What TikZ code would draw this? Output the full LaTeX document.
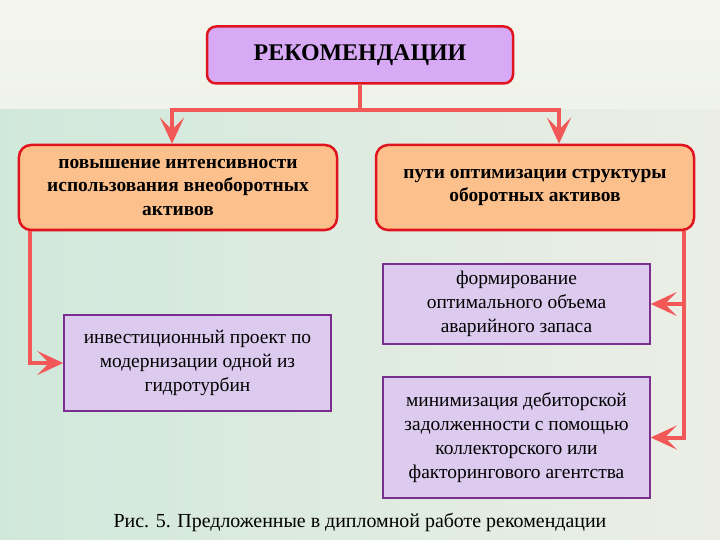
\documentclass[tikz,border=0pt]{standalone}
\usepackage{fontspec}
\setmainfont{Liberation Serif}
\usetikzlibrary{arrows.meta}
\definecolor{boxred}{HTML}{E0141E}
\definecolor{headfill}{HTML}{D8AAF6}
\definecolor{branchfill}{HTML}{FCC08C}
\definecolor{leafline}{HTML}{7A2E8E}
\definecolor{leaffill}{HTML}{DCCBEE}
\definecolor{linkred}{HTML}{F25858}
\tikzset{
  headbox/.style={draw=boxred, line width=2.5bp, rounded corners=9bp, fill=headfill,
    minimum width=306bp, minimum height=57bp, font=\fontsize{24}{28}\selectfont\bfseries},
  branchbox/.style={draw=boxred, line width=2.5bp, rounded corners=12bp, fill=branchfill,
    minimum width=318bp, minimum height=85bp, align=center,
    font=\fontsize{19.5}{24}\selectfont\bfseries},
  leafbox/.style={draw=leafline, line width=1.5bp, fill=leaffill, minimum width=267bp,
    align=center, font=\fontsize{19.5}{24}\selectfont},
  link/.style={draw=linkred, line width=4bp},
  linkarrow/.style={link, -{Stealth[length=26bp,width=24bp,inset=12bp]}}
}
\begin{document}
\begin{tikzpicture}[x=1bp, y=-1bp]
  \useasboundingbox (0,0) rectangle (720,540);
  % fondo
  \shade[top color={rgb,255:red,244;green,245;blue,238}, bottom color={rgb,255:red,240;green,243;blue,234}] (0,0) rectangle (720,110);
  \shade[left color={rgb,255:red,208;green,232;blue,219}, right color={rgb,255:red,236;green,238;blue,230}] (0,110) rectangle (720,540);

  % nodi
  \node[headbox] (rec) at (360,55) {РЕКОМЕНДАЦИИ};
  \node[branchbox] (lefttask) at (178,187.5) {повышение интенсивности\\использования внеоборотных\\активов};
  \node[branchbox] (righttask) at (535,187.5) {пути оптимизации структуры\\оборотных активов};
  \node[leafbox, minimum height=96bp] (invest) at (197.5,363) {инвестиционный проект по\\модернизации одной из\\гидротурбин};
  \node[leafbox, minimum height=80bp] (reserve) at (516.5,304) {формирование\\оптимального объема\\аварийного запаса};
  \node[leafbox, minimum height=121bp] (debt) at (516.5,437.5) {минимизация дебиторской\\задолженности с помощью\\коллекторского или\\факторингового агентства};

  % collegamenti
  \coordinate (fork) at (360,110);
  \coordinate (lbranch) at ([xshift=12bp]lefttask.south west);
  \coordinate (rbranch) at ([xshift=-11bp]righttask.south east);
  \draw[link] (rec.south) -- (fork);
  \draw[linkarrow] (fork) -| ([xshift=-6bp]lefttask.north);
  \draw[linkarrow] (fork) -| ([xshift=24bp]righttask.north);
  \draw[linkarrow] (lbranch) |- (invest.west);
  \draw[linkarrow] (rbranch) |- (debt.east);
  \draw[linkarrow] (rbranch |- reserve.east) -- (reserve.east);

  \node[font=\fontsize{20}{24}\selectfont] (caption) at (360,522) {Рис. 5. Предложенные в дипломной работе рекомендации};
\end{tikzpicture}
\end{document}
